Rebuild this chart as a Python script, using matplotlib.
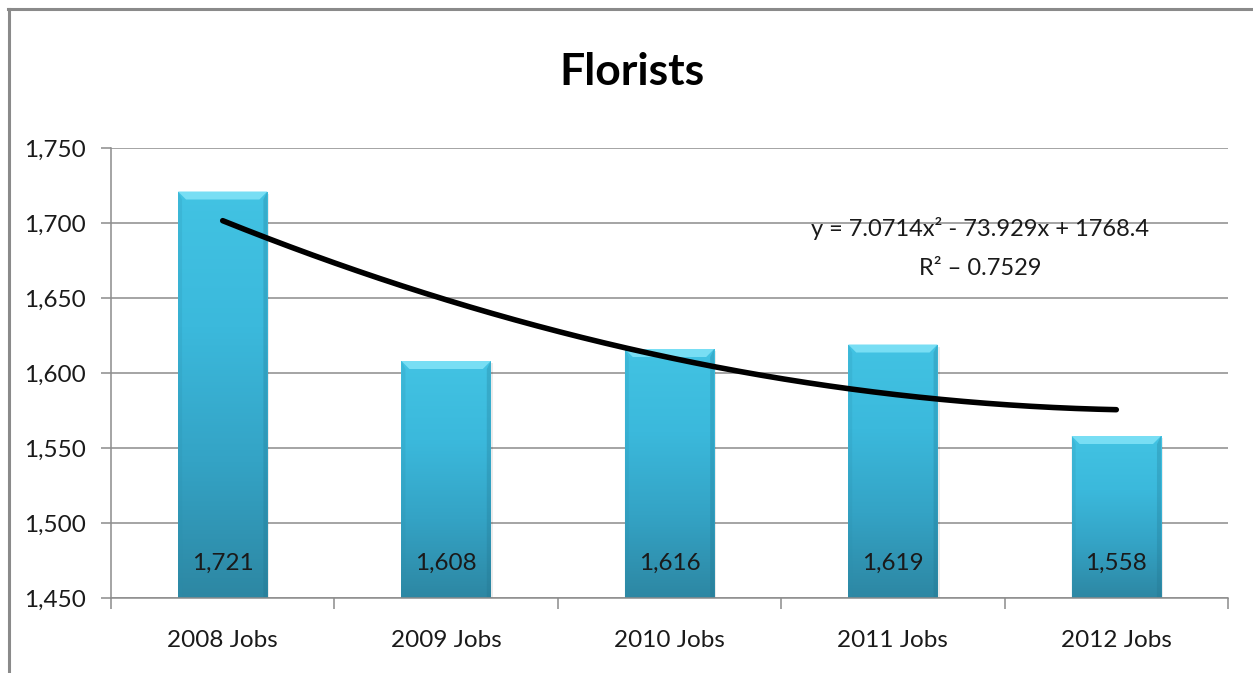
import numpy as np
import matplotlib
matplotlib.use("Agg")
import matplotlib.pyplot as plt
from matplotlib.patches import Polygon, Rectangle
from matplotlib.colors import LinearSegmentedColormap
from matplotlib.ticker import FuncFormatter, FixedLocator

categories = ["2008 Jobs", "2009 Jobs", "2010 Jobs", "2011 Jobs", "2012 Jobs"]
values = [1721, 1608, 1616, 1619, 1558]
title = "Florists"
eq_text = "y = 7.0714x² - 73.929x + 1768.4"
r2_text = "R² – 0.7529"
y_min, y_max, y_step = 1450, 1750, 50

plt.rcParams['font.family'] = ['Liberation Sans Narrow', 'Lato', 'DejaVu Sans']

W, H, DPI = 1253, 673, 100
fig = plt.figure(figsize=(W / DPI, H / DPI), dpi=DPI)
fig.patch.set_facecolor("white")

# partial outer frame (top + left), as in the reference
frame_col = "#8a8a8a"
fig.add_artist(plt.Line2D([8 / W, 1.0], [1 - 8.5 / H, 1 - 8.5 / H], color=frame_col, lw=2.2,
                          transform=fig.transFigure))
fig.add_artist(plt.Line2D([8.5 / W, 8.5 / W], [0, 1 - 8.5 / H], color=frame_col, lw=2.2,
                          transform=fig.transFigure))

ax = fig.add_axes([111 / W, 1 - 598 / H, (1228 - 111) / W, (598 - 148) / H])
x = np.arange(len(categories))
ax.set_xlim(-0.5, len(categories) - 0.5)
ax.set_ylim(y_min, y_max)

grid_col = "#8c8c8c"
ax.set_yticks(np.arange(y_min, y_max + 1, y_step))
ax.yaxis.grid(True, color=grid_col, lw=1.1, zorder=0)
ax.set_axisbelow(True)
ax.yaxis.set_major_formatter(FuncFormatter(lambda v, p: f"{int(v):,}"))
ax.tick_params(axis="y", length=7, width=1.1, color=grid_col, pad=11, labelsize=17.5, labelcolor="#1a1a1a")

# x axis: ticks at category boundaries, labels at centers
ax.xaxis.set_major_locator(FixedLocator(np.arange(-0.5, len(categories), 1.0)))
ax.xaxis.set_minor_locator(FixedLocator(x))
ax.set_xticklabels([])
ax.set_xticklabels(categories, minor=True)
ax.tick_params(axis="x", which="major", length=8, width=1.1, color=grid_col)
ax.tick_params(axis="x", which="minor", length=0, pad=23, labelsize=17.5, labelcolor="#1a1a1a")

for s in ["top", "right"]:
    ax.spines[s].set_visible(False)
for s in ["left", "bottom"]:
    ax.spines[s].set_color(grid_col)
    ax.spines[s].set_linewidth(1.1)

bar_w = 0.4
bars = ax.bar(x, values, width=bar_w, color="#38b4d6", zorder=2, edgecolor="none")

grad_cmap = LinearSegmentedColormap.from_list("g", ["#2d87a3", "#34a3c5", "#3bb9dc", "#42c3e3"])
grad = np.linspace(0, 1, 256).reshape(-1, 1)
px_x = 1.0 / ((1228 - 111) / len(categories))  # data units per pixel (x)
px_y = (y_max - y_min) / (598 - 148)           # data units per pixel (y)
for b in bars:
    x0, w, h = b.get_x(), b.get_width(), b.get_height()
    y0 = y_min
    y1 = b.get_y() + h
    # soft shadow
    ax.add_patch(Rectangle((x0 + 2 * px_x, y0), w, y1 - y0 - 2 * px_y, facecolor="#000000",
                           alpha=0.08, zorder=1.9, edgecolor="none"))
    im = ax.imshow(grad, extent=[x0, x0 + w, y0, y1], origin="lower", cmap=grad_cmap,
                   aspect="auto", zorder=2.1, interpolation="bilinear")
    im.set_clip_path(b)
    bv_x, bv_y = 8 * px_x, 8 * px_y
    # top bevel (light)
    ax.add_patch(Polygon([[x0, y1], [x0 + w, y1], [x0 + w - bv_x, y1 - bv_y], [x0 + bv_x, y1 - bv_y]],
                         closed=True, facecolor="#78def4", edgecolor="none", zorder=2.2))
    # side bevels (subtle)
    ax.add_patch(Polygon([[x0, y1], [x0 + bv_x * 0.5, y1 - bv_y], [x0 + bv_x * 0.5, y0], [x0, y0]],
                         closed=True, facecolor="#2a8eab", alpha=0.2, edgecolor="none", zorder=2.2))
    ax.add_patch(Polygon([[x0 + w, y1], [x0 + w - bv_x * 0.5, y1 - bv_y], [x0 + w - bv_x * 0.5, y0], [x0 + w, y0]],
                         closed=True, facecolor="#1f6f88", alpha=0.25, edgecolor="none", zorder=2.2))

# value labels near the bottom of each bar
for xi, v in zip(x, values):
    ax.text(xi, 0.078, f"{v:,}", transform=ax.get_xaxis_transform(), ha="center", va="center",
            fontsize=17.5, color="#1a1a1a", zorder=4)

# polynomial (order 2) trendline fitted to the data
xs = x + 1
coef = np.polyfit(xs, values, 2)
xx = np.linspace(xs.min(), xs.max(), 200)
ax.plot(xx - 1, np.polyval(coef, xx), color="black", lw=4, solid_capstyle="round", zorder=5)

ax.text(0.778, 0.822, eq_text, transform=ax.transAxes, ha="center", va="center", fontsize=17,
        color="#1a1a1a", zorder=6)
ax.text(0.778, 0.733, r2_text, transform=ax.transAxes, ha="center", va="center", fontsize=17,
        color="#1a1a1a", zorder=6)

fig.text(632 / W, 1 - 72 / H, title, ha="center", va="center", fontsize=32, fontweight="bold",
         color="black")

fig.savefig("out.png", dpi=DPI, facecolor="white")
